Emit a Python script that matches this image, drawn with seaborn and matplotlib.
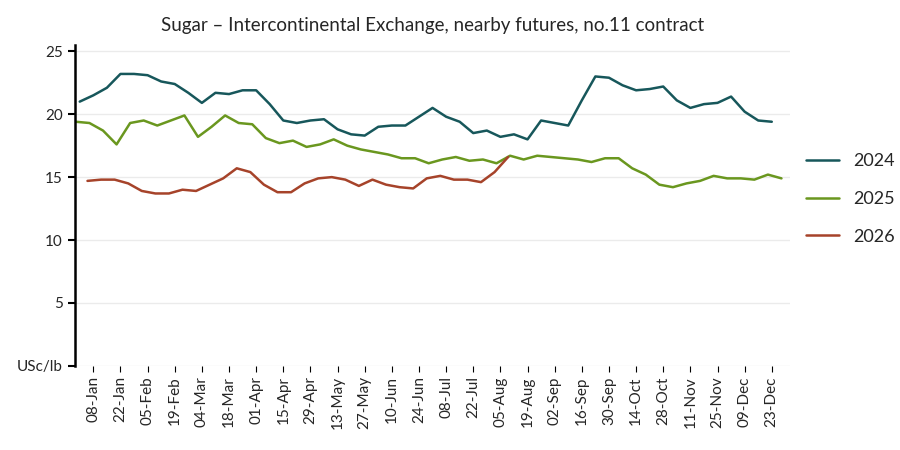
import numpy as np
import pandas as pd
import matplotlib
matplotlib.use("Agg")
import matplotlib.pyplot as plt
import seaborn as sns

v2024 = [21.0, 21.5, 22.1, 23.2, 23.2, 23.1, 22.6, 22.4, 21.7, 20.9, 21.7, 21.6, 21.9, 21.9,
         20.8, 19.5, 19.3, 19.5, 19.6, 18.8, 18.4, 18.3, 19.0, 19.1, 19.1, 19.8, 20.5,
         19.8, 19.4, 18.5, 18.7, 18.2, 18.4, 18.0, 19.5, 19.3, 19.1, 21.1, 23.0, 22.9,
         22.3, 21.9, 22.0, 22.2, 21.1, 20.5, 20.8, 20.9, 21.4, 20.2, 19.5, 19.4]
v2025 = [19.4, 19.3, 18.7, 17.6, 19.3, 19.5, 19.1, 19.5, 19.9, 18.2, 19.0, 19.9, 19.3, 19.2,
         18.1, 17.7, 17.9, 17.4, 17.6, 18.0, 17.5, 17.2, 17.0, 16.8, 16.5, 16.5, 16.1,
         16.4, 16.6, 16.3, 16.4, 16.1, 16.7, 16.4, 16.7, 16.6, 16.5, 16.4, 16.2, 16.5,
         16.5, 15.7, 15.2, 14.4, 14.2, 14.5, 14.7, 15.1, 14.9, 14.9, 14.8, 15.2, 14.9]
v2026 = [14.7, 14.8, 14.8, 14.5, 13.9, 13.7, 13.7, 14.0, 13.9, 14.4, 14.9, 15.7, 15.4,
         14.4, 13.8, 13.8, 14.5, 14.9, 15.0, 14.8, 14.3, 14.8, 14.4, 14.2, 14.1, 14.9,
         15.1, 14.8, 14.8, 14.6, 15.4, 16.6]
start_day = {"2024": 0, "2025": -2, "2026": 4}  # Monday of first week, days relative to 1 Jan
tick_labels = ["08-Jan", "22-Jan", "05-Feb", "19-Feb", "04-Mar", "18-Mar", "01-Apr", "15-Apr",
               "29-Apr", "13-May", "27-May", "10-Jun", "24-Jun", "08-Jul", "22-Jul", "05-Aug",
               "19-Aug", "02-Sep", "16-Sep", "30-Sep", "14-Oct", "28-Oct", "11-Nov", "25-Nov",
               "09-Dec", "23-Dec"]
colors = {"2024": "#17575b", "2025": "#6a971f", "2026": "#a6432a"}

rows = []
for name, vals in [("2024", v2024), ("2025", v2025), ("2026", v2026)]:
    for i, v in enumerate(vals):
        rows.append({"day": start_day[name] + 7 * i, "value": v, "year": name})
df = pd.DataFrame(rows)

sns.set_style("white")
plt.rcParams["font.family"] = ["Lato", "DejaVu Sans"]
fig = plt.figure(figsize=(9, 4.5), dpi=100)
ax = fig.add_axes([0.083, 0.187, 0.795, 0.713])
sns.lineplot(data=df, x="day", y="value", hue="year", palette=colors, linewidth=1.8, ax=ax)

ax.set_xlim(-2.6, 366.5)
ax.set_ylim(0, 25.5)
ax.set_yticks([0, 5, 10, 15, 20, 25])
ax.set_yticklabels(["USc/lb", "5", "10", "15", "20", "25"], fontsize=11)
ax.set_xticks([7 + 14 * i for i in range(len(tick_labels))])
ax.set_xticklabels(tick_labels, rotation=90, fontsize=11)
ax.grid(axis="y", color="#ebebeb", linewidth=1)
for s in ["top", "right", "bottom"]:
    ax.spines[s].set_visible(False)
ax.spines["left"].set_color("black")
ax.spines["left"].set_linewidth(1.8)
ax.tick_params(axis="x", bottom=True, length=4, color="black")
ax.tick_params(axis="y", left=True, length=5, width=1.5, color="black")
ax.set_xlabel("")
ax.set_ylabel("")
ax.set_title("Sugar \u2013 Intercontinental Exchange, nearby futures, no.11 contract", fontsize=13.5, pad=10)
ax.legend(title=None, frameon=False, fontsize=13, loc="center left", bbox_to_anchor=(1.0, 0.52),
          handlelength=1.8, labelspacing=1.2)
fig.savefig("out.png", dpi=100)
